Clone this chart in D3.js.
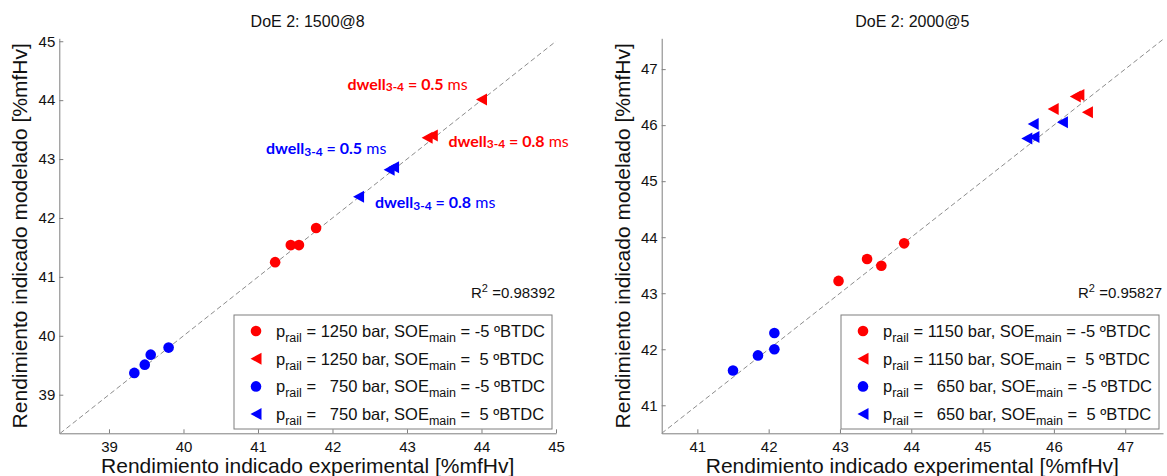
<!DOCTYPE html>
<html><head><meta charset="utf-8">
<script src="https://cdn.jsdelivr.net/npm/d3@7"></script>
<style>
body{margin:0;background:#fff}
text{font-family:"Liberation Sans",Arial,Helvetica,sans-serif}
</style>
</head><body>
<svg id="c" width="1167" height="476"></svg>
<script>
// ---------- data ----------
const titles = ["DoE 2: 1500@8", "DoE 2: 2000@5"];
const xLabel = "Rendimiento indicado experimental [%mfHv]";
const yLabel = "Rendimiento indicado modelado [%mfHv]";
const ticksA = [39, 40, 41, 42, 43, 44, 45];
const ticksB = [41, 42, 43, 44, 45, 46, 47];
const xLimA = [38.333, 45], yLimA = [38.345, 45.05];
const xLimB = [40.5, 47.53], yLimB = [40.5, 47.55];
const r2Values = ["0.98392", "0.95827"];

// panel A (1500@8): [experimental, modelado]
const a_1250_m5 = [[41.23, 41.25], [41.44, 41.54], [41.55, 41.54], [41.78, 41.83]];
const a_1250_p5 = [[44.00, 44.01], [43.27, 43.36], [43.34, 43.40]];
const a_750_m5  = [[39.34, 39.37], [39.48, 39.51], [39.56, 39.68], [39.80, 39.80]];
const a_750_p5  = [[42.76, 42.82], [42.82, 42.86], [42.35, 42.36]];
// panel B (2000@5)
const b_1150_m5 = [[42.98, 43.22], [43.38, 43.61], [43.58, 43.49], [43.90, 43.89]];
const b_1150_p5 = [[45.99, 46.29], [46.30, 46.51], [46.35, 46.54], [46.47, 46.23]];
const b_650_m5  = [[41.50, 41.62], [41.85, 41.89], [42.08, 42.00], [42.08, 42.29]];
const b_650_p5  = [[45.71, 46.02], [45.62, 45.76], [45.72, 45.79], [46.12, 46.05]];

const legendPressA = ["1250", "1250", "  750", "  750"];
const legendPressB = ["1150", "1150", "  650", "  650"];
const legendSOE = ["-5", " 5", "-5", " 5"];

// annotations on panel A: dwell value, anchor [x, y] in data units
const annotValues = ["0.5", "0.8", "0.5", "0.8"];
const annotAnchors = [[42.20, 44.18], [43.557, 43.21], [41.108, 43.08], [42.571, 42.165]];

// ---------- drawing ----------
const RED = "#ff0000", BLUE = "#0000ff", AX = "#7f7f7f";
const svg = d3.select("#c");
const BOTTOM = 433.3, TOP = 38.3;

const panels = [
  {title: titles[0], xlim: xLimA, ylim: yLimA, ticks: ticksA, left: 59.3, right: 556,
   series: [[a_1250_m5, RED, "o"], [a_1250_p5, RED, "<"], [a_750_m5, BLUE, "o"], [a_750_p5, BLUE, "<"]],
   press: legendPressA, r2: r2Values[0], annot: true},
  {title: titles[1], xlim: xLimB, ylim: yLimB, ticks: ticksB, left: 661.7, right: 1163,
   series: [[b_1150_m5, RED, "o"], [b_1150_p5, RED, "<"], [b_650_m5, BLUE, "o"], [b_650_p5, BLUE, "<"]],
   press: legendPressB, r2: r2Values[1], annot: false}
];

const triPath = "M-5.5,0L5.5,-6L5.5,6Z";
function marker(sel, shape, color, cx, cy) {
  if (shape === "o") {
    sel.append("circle").attr("cx", cx).attr("cy", cy).attr("r", 5.3).attr("fill", color);
  } else {
    sel.append("path").attr("d", triPath).attr("transform", `translate(${cx},${cy})`).attr("fill", color);
  }
}

panels.forEach(p => {
  const g = svg.append("g");
  const x = d3.scaleLinear().domain(p.xlim).range([p.left, p.right]);
  const y = d3.scaleLinear().domain(p.ylim).range([BOTTOM, TOP]);

  // axes
  const gx = g.append("g").attr("transform", `translate(0,${BOTTOM})`)
    .call(d3.axisBottom(x).tickValues(p.ticks).tickSizeInner(-4).tickSizeOuter(0).tickPadding(8).tickFormat(d3.format("d")));
  const gy = g.append("g").attr("transform", `translate(${p.left},0)`)
    .call(d3.axisLeft(y).tickValues(p.ticks).tickSizeInner(-4).tickSizeOuter(0).tickPadding(4).tickFormat(d3.format("d")));
  [gx, gy].forEach(a => {
    a.attr("font-family", null).attr("font-size", 15);
    a.select(".domain").attr("stroke", AX);
    a.selectAll(".tick line").attr("stroke", AX);
    a.selectAll(".tick text").attr("fill", "#111");
  });

  // diagonal
  const lo = Math.max(p.xlim[0], p.ylim[0]), hi = Math.min(p.xlim[1], p.ylim[1]);
  g.append("line").attr("x1", x(lo)).attr("y1", y(lo)).attr("x2", x(hi)).attr("y2", y(hi))
    .attr("stroke", "#8c8c8c").attr("stroke-width", 1).attr("stroke-dasharray", "5,3");

  // points
  p.series.forEach(([data, color, shape]) => {
    data.forEach(d => marker(g, shape, color, x(d[0]), y(d[1])));
  });

  // title & labels
  const cxm = (p.left + p.right) / 2;
  g.append("text").attr("x", cxm).attr("y", 27).attr("text-anchor", "middle")
    .attr("font-size", 16).attr("fill", "#111").text(p.title);
  g.append("text").attr("x", cxm).attr("y", 473).attr("text-anchor", "middle")
    .attr("font-size", 21).attr("fill", "#111").text(xLabel);
  g.append("text").attr("transform", `translate(${p.left - 32},${(TOP + BOTTOM) / 2}) rotate(-90)`)
    .attr("text-anchor", "middle").attr("font-size", 21).attr("fill", "#111").text(yLabel);

  // R^2
  const r2 = g.append("text").attr("x", p.right - 85).attr("y", 298).attr("font-size", 15).attr("fill", "#111")
    .style("white-space", "pre");
  r2.append("tspan").text("R");
  r2.append("tspan").attr("font-size", 11).attr("dy", -6).text("2");
  r2.append("tspan").attr("dy", 6).text(" =" + p.r2);

  // legend
  const lw = 318, lh = 114, lx = p.right - 4 - lw, ly = 315;
  g.append("rect").attr("x", lx).attr("y", ly).attr("width", lw).attr("height", lh)
    .attr("fill", "#fff").attr("stroke", AX).attr("stroke-width", 1);
  p.series.forEach(([data, color, shape], i) => {
    const ry = ly + 16 + i * 27.7;
    marker(g, shape, color, lx + 22, ry);
    const t = g.append("text").attr("x", lx + 42).attr("y", ry + 5.8).attr("font-size", 16.5)
      .attr("fill", "#111").style("white-space", "pre");
    t.append("tspan").text("p");
    t.append("tspan").attr("font-size", 12.5).attr("dy", 5).text("rail");
    t.append("tspan").attr("dy", -5).text(" = " + p.press[i] + " bar, SOE");
    t.append("tspan").attr("font-size", 12.5).attr("dy", 5).text("main");
    t.append("tspan").attr("dy", -5).text(" = " + legendSOE[i] + " ºBTDC");
  });

  // annotations
  if (p.annot) {
    const annotColors = [RED, RED, BLUE, BLUE];
    annotAnchors.forEach((a, i) => {
      const t = g.append("text").attr("x", x(a[0])).attr("y", y(a[1]))
        .attr("fill", annotColors[i]).attr("font-size", 16)
        .style("font-family", "Lato, 'Open Sans', sans-serif").style("white-space", "pre");
      t.append("tspan").attr("font-weight", "bold").text("dwell");
      t.append("tspan").attr("font-weight", "bold").attr("font-size", 12).attr("dy", 1.5).text("3-4");
      t.append("tspan").attr("font-weight", "bold").attr("dy", -1.5).text(" = " + annotValues[i]);
      t.append("tspan").text(" ms");
    });
  }
});
</script>
</body></html>
